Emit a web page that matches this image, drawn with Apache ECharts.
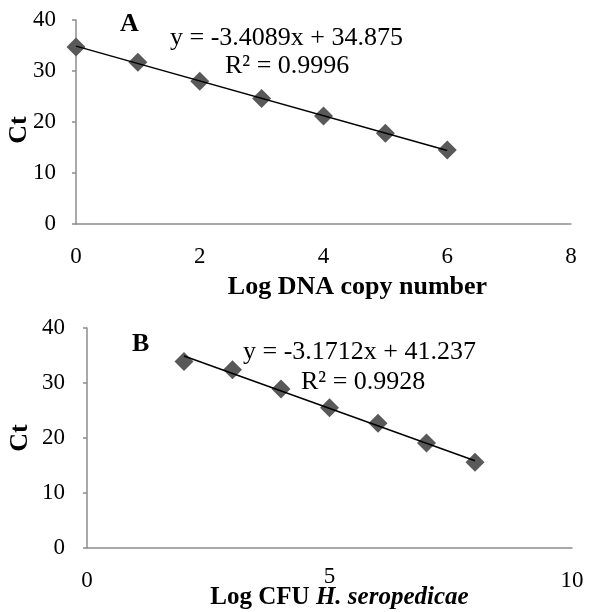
<!DOCTYPE html>
<html>
<head>
<meta charset="utf-8">
<script src="https://cdn.jsdelivr.net/npm/echarts@6/dist/echarts.min.js"></script>
<style>
  html, body { margin: 0; padding: 0; background: #fff; }
  #main { width: 589px; height: 612px; }
</style>
</head>
<body>
<div id="main"></div>
<script>
// panel A: DNA copy number standard curve
var logCopies = [0, 1, 2, 3, 4, 5, 6];
var ctA = [34.7, 31.7, 28.0, 24.6, 21.2, 17.8, 14.5];
var slopeA = -3.4089, interceptA = 34.875;

// panel B: CFU standard curve
var logCfu = [2, 3, 4, 5, 6, 7, 8];
var ctB = [33.9, 32.4, 28.9, 25.5, 22.7, 19.1, 15.6];
var slopeB = -3.1712, interceptB = 41.237;

var font = 'Liberation Serif';
var axisGray = '#8c8c8c';
var markColor = '#595959';

function pairs(xs, ys) {
    return xs.map(function (x, i) { return [x, ys[i]]; });
}
function fitLine(xs, m, b) {
    var x0 = xs[0], x1 = xs[xs.length - 1];
    return [[x0, m * x0 + b], [x1, m * x1 + b]];
}

function yAxisOpt(grid, gap, margin, pad) {
    return {
        gridIndex: grid, type: 'value', min: 0, max: 40, interval: 10,
        name: 'Ct', nameLocation: 'middle', nameGap: gap, nameRotate: 90, nameMoveOverlap: false,
        nameTextStyle: { fontFamily: font, fontSize: 26, fontWeight: 'bold', color: '#000', padding: pad },
        axisLine: { show: true, lineStyle: { color: axisGray, width: 1.5 } },
        axisTick: { show: true, length: 4, lineStyle: { color: axisGray, width: 1.5 } },
        axisLabel: { fontFamily: font, fontSize: 23, color: '#000', margin: margin },
        splitLine: { show: false }
    };
}

var chart = echarts.init(document.getElementById('main'));
chart.setOption({
    animation: false,
    backgroundColor: '#fff',
    grid: [
        { left: 76, right: 18, top: 20, height: 204, containLabel: false, outerBoundsMode: 'none' },
        { left: 87, right: 17, top: 328, height: 220, containLabel: false, outerBoundsMode: 'none' }
    ],
    xAxis: [
        {
            gridIndex: 0, type: 'value', min: 0, max: 8, interval: 2,
            name: 'Log DNA copy number', nameLocation: 'middle', nameGap: 50, nameMoveOverlap: false,
            nameTextStyle: { fontFamily: font, fontSize: 26, fontWeight: 'bold', color: '#000', padding: [0, 0, 0, 68] },
            axisLine: { lineStyle: { color: axisGray, width: 1.5 } },
            axisTick: { show: false },
            axisLabel: { fontFamily: font, fontSize: 23, color: '#000', margin: 21 },
            splitLine: { show: false }
        },
        {
            gridIndex: 1, type: 'value', min: 0, max: 10, interval: 5,
            name: '{b|Log CFU }{i|H. seropedicae}', nameLocation: 'middle', nameGap: 37, nameMoveOverlap: false,
            nameTextStyle: {
                padding: [0, 0, 0, 20],
                rich: {
                    b: { fontFamily: font, fontSize: 25, fontWeight: 'bold', color: '#000', lineHeight: 26 },
                    i: { fontFamily: font, fontSize: 25, fontWeight: 'bold', fontStyle: 'italic', color: '#000', lineHeight: 26 }
                }
            },
            axisLine: { lineStyle: { color: axisGray, width: 1.5 } },
            axisTick: { show: false },
            axisLabel: {
                margin: 17,
                formatter: function (v) { return v === 5 ? '{r|5}' : '{n|' + v + '}'; },
                rich: {
                    n: { fontFamily: font, fontSize: 23, color: '#000', padding: [4, 0, 0, 0] },
                    r: { fontFamily: font, fontSize: 23, color: '#000' }
                }
            },
            splitLine: { show: false }
        }
    ],
    yAxis: [yAxisOpt(0, 44, 20, [0, 16, 0, 0]), yAxisOpt(1, 54, 22, 0)],
    series: [
        {
            type: 'line', xAxisIndex: 0, yAxisIndex: 0, data: fitLine(logCopies, slopeA, interceptA),
            showSymbol: false, lineStyle: { color: '#000', width: 1.5 }, z: 3
        },
        {
            type: 'scatter', xAxisIndex: 0, yAxisIndex: 0, data: pairs(logCopies, ctA),
            symbol: 'diamond', symbolSize: [19, 19], itemStyle: { color: markColor, opacity: 1 }, z: 2
        },
        {
            type: 'line', xAxisIndex: 1, yAxisIndex: 1, data: fitLine(logCfu, slopeB, interceptB),
            showSymbol: false, lineStyle: { color: '#000', width: 1.5 }, z: 3
        },
        {
            type: 'scatter', xAxisIndex: 1, yAxisIndex: 1, data: pairs(logCfu, ctB),
            symbol: 'diamond', symbolSize: [19, 19], itemStyle: { color: markColor, opacity: 1 }, z: 2
        }
    ],
    graphic: [
        { type: 'text', x: 120, y: 24, style: { text: 'A', font: 'bold 26px ' + font, fill: '#000', verticalAlign: 'middle' } },
        { type: 'text', x: 170, y: 38, style: { text: 'y = -3.4089x + 34.875', font: '26px ' + font, fill: '#000', verticalAlign: 'middle' } },
        { type: 'text', x: 225, y: 66, style: { text: 'R² = 0.9996', font: '26px ' + font, fill: '#000', verticalAlign: 'middle' } },
        { type: 'text', x: 132, y: 344, style: { text: 'B', font: 'bold 26px ' + font, fill: '#000', verticalAlign: 'middle' } },
        { type: 'text', x: 243, y: 352, style: { text: 'y = -3.1712x + 41.237', font: '26px ' + font, fill: '#000', verticalAlign: 'middle' } },
        { type: 'text', x: 301, y: 382, style: { text: 'R² = 0.9928', font: '26px ' + font, fill: '#000', verticalAlign: 'middle' } }
    ]
});
</script>
</body>
</html>
